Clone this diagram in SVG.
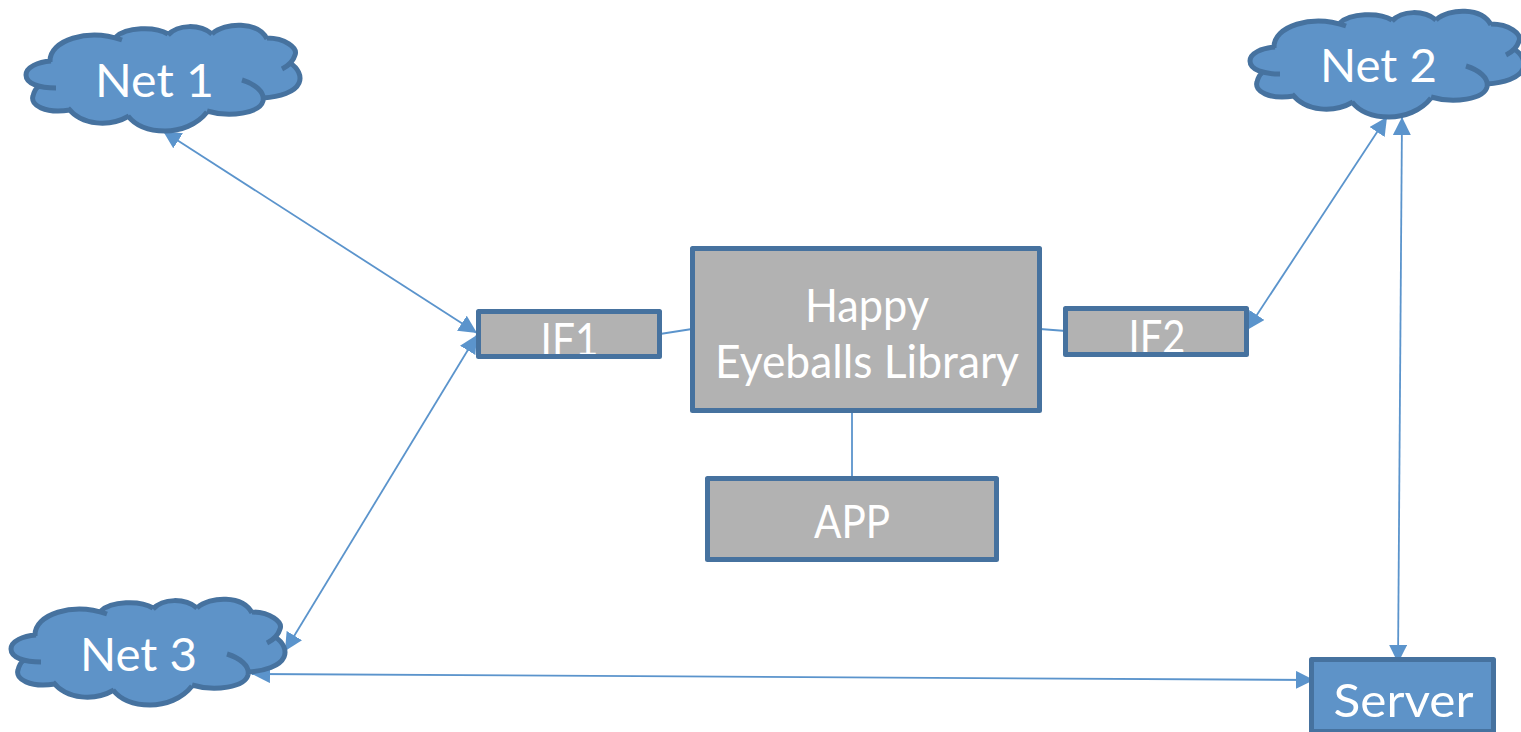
<svg xmlns="http://www.w3.org/2000/svg" width="1521" height="732" viewBox="0 0 1521 732">
<style>
.bg{fill:#fff}
.gray{fill:#b2b2b2}
.blue{fill:#5e93c8}
.frame{fill:none;stroke:#46729f;stroke-width:5;stroke-linejoin:round}
.cf{fill:#5e93c8;stroke:none}
.cs{fill:none;stroke:#46729f;stroke-width:5;stroke-linecap:butt;stroke-linejoin:round}
.t{font-family:"Lato","Open Sans",sans-serif;fill:#fff;text-anchor:middle;font-size:47px}
.c{fill:none;stroke:#5b94cc;stroke-width:1.8}
.a{marker-start:url(#h);marker-end:url(#h)}
</style>
<defs>
<marker id="h" markerUnits="userSpaceOnUse" markerWidth="19" markerHeight="18" refX="18" refY="9" orient="auto-start-reverse" viewBox="0 0 19 18"><path d="M0 0L18 9L0 18Z" fill="#5b94cc"/></marker>
<g id="cloud">
<path class="cf" d="M51 61C49 40 88 28 119 38C126 27 155 26 168 34C178 24 200 24 212 33C225 22 258 21 267 38C285 38 298 48 295 55C294 58 293 61 290 63C298 68 302 76 299 83C295 92 280 97 263 98C262 104 261 106 258 108C245 117 225 117 207 112C197 125 180 131 165 131C148 131 135 125 128 116C110 127 82 126 68 109C45 114 30 105 33 96C34 92 35 89 38 87C27 84 26 80 26 75C26 67 38 62 51 61Z"/>
<path class="cs" d="M122 40C88 28 49 40 50 62M116 37C126 27 155 26 168 34M168 35C178 24 200 24 212 34M212 34C225 22 258 21 267 39M267 38C285 38 298 48 295 55C293 62 288 66 282 69M290 63C298 68 302 76 299 83C295 92 280 97 263 98M242 80C255 84 265 92 263 101C260 113 230 118 207 111M207 112C197 125 180 131 165 131C148 131 135 125 128 116M129 116C110 127 82 126 68 108M70 110C45 114 30 105 33 96C34 92 35 89 38 87M56 88C40 88 26 84 26 75C26 67 38 62 51 61"/>
</g>
</defs>
<rect class="bg" width="1521" height="732"/>
<g id="connectors">
<path class="c a" d="M163 131L477 333"/>
<path class="c a" d="M477 335L285 651"/>
<path class="c a" d="M252 674L1314 680"/>
<path class="c a" d="M1247 330L1387 117"/>
<path class="c a" d="M1402 117L1398 663"/>
<path class="c" d="M660 334L692 329"/>
<path class="c" d="M1040 329L1066 331"/>
<path class="c" d="M852 412L852 477"/>
</g>
<g id="net1"><use href="#cloud"/><text class="t" x="154.500" y="97" textLength="119" lengthAdjust="spacingAndGlyphs">Net 1</text></g>
<g id="net2"><use href="#cloud" x="1224" y="-14"/><text class="t" x="1378.500" y="82" textLength="117" lengthAdjust="spacingAndGlyphs">Net 2</text></g>
<g id="net3"><use href="#cloud" x="-15" y="574"/><text class="t" x="138.500" y="671" textLength="117" lengthAdjust="spacingAndGlyphs">Net 3</text></g>
<g id="library"><rect class="gray" x="692.500" y="248.500" width="347" height="162"/><text class="t" x="867" y="322" textLength="124" lengthAdjust="spacingAndGlyphs">Happy</text><text class="t" x="867" y="378" textLength="304" lengthAdjust="spacingAndGlyphs">Eyeballs Library</text><rect class="frame" x="692.500" y="248.500" width="347" height="162"/></g>
<g id="if1"><rect class="gray" x="478.500" y="311.500" width="181" height="45"/><text class="t" x="569.500" y="356" textLength="58" lengthAdjust="spacingAndGlyphs">IF1</text><rect class="frame" x="478.500" y="311.500" width="181" height="45"/></g>
<g id="if2"><rect class="gray" x="1065.500" y="308.500" width="181" height="46"/><text class="t" x="1157" y="353" textLength="57" lengthAdjust="spacingAndGlyphs">IF2</text><rect class="frame" x="1065.500" y="308.500" width="181" height="46"/></g>
<g id="app"><rect class="gray" x="707.500" y="478.500" width="289" height="81"/><text class="t" x="852" y="538" textLength="76" lengthAdjust="spacingAndGlyphs">APP</text><rect class="frame" x="707.500" y="478.500" width="289" height="81"/></g>
<g id="server"><rect class="blue" x="1311.500" y="659.500" width="182" height="72"/><text class="t" x="1403.500" y="717" textLength="140" lengthAdjust="spacingAndGlyphs">Server</text><rect class="frame" x="1311.500" y="659.500" width="182" height="72"/></g>
</svg>
